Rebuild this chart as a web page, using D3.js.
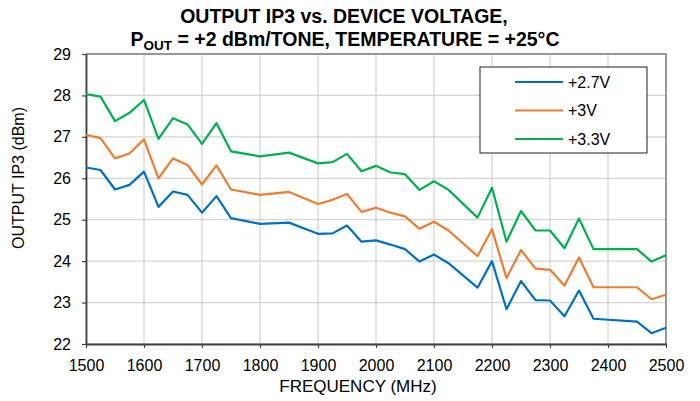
<!DOCTYPE html>
<html>
<head>
<meta charset="utf-8">
<script src="https://cdn.jsdelivr.net/npm/d3@7"></script>
<style>
  body { margin: 0; background: #fff; }
  text { font-family: "Liberation Sans", Arial, sans-serif; }
</style>
</head>
<body>
<div id="chart"></div>
<script>
// frequency points (MHz) where the curves have a vertex
const freq = [1500, 1525, 1550, 1575, 1600, 1625, 1650, 1675, 1700, 1725, 1750,
  1800, 1850, 1900, 1925, 1950, 1975, 2000, 2025, 2050, 2075, 2100, 2125,
  2175, 2200, 2225, 2250, 2275, 2300, 2325, 2350, 2375, 2450, 2475, 2500];

const ip3_27 = [26.26, 26.20, 25.73, 25.84, 26.16, 25.31, 25.68, 25.60, 25.17, 25.57, 25.04,
  24.90, 24.93, 24.66, 24.67, 24.86, 24.47, 24.50, 24.40, 24.29, 23.99, 24.16, 23.95,
  23.36, 24.00, 22.84, 23.52, 23.06, 23.05, 22.67, 23.29, 22.61, 22.54, 22.26, 22.39];

const ip3_30 = [27.05, 26.97, 26.48, 26.60, 26.94, 26.00, 26.48, 26.32, 25.85, 26.31, 25.73,
  25.60, 25.67, 25.38, 25.48, 25.62, 25.19, 25.29, 25.17, 25.08, 24.78, 24.95, 24.74,
  24.12, 24.77, 23.59, 24.27, 23.82, 23.79, 23.41, 24.09, 23.37, 23.37, 23.08, 23.19];

const ip3_33 = [28.03, 27.97, 27.38, 27.58, 27.89, 26.95, 27.45, 27.30, 26.83, 27.33, 26.65,
  26.53, 26.62, 26.36, 26.39, 26.59, 26.17, 26.30, 26.14, 26.10, 25.72, 25.93, 25.72,
  25.05, 25.77, 24.47, 25.21, 24.74, 24.74, 24.31, 25.03, 24.29, 24.29, 23.99, 24.14];

const seriesNames = ["+2.7V", "+3V", "+3.3V"];
const colors = ["#0070c0", "#ed7d31", "#00b050"];
const xTicks = [1500, 1600, 1700, 1800, 1900, 2000, 2100, 2200, 2300, 2400, 2500];
const yTicks = [22, 23, 24, 25, 26, 27, 28, 29];

const width = 700,
  height = 401,
  margin = ({ top: 54, right: 34, bottom: 57, left: 86 });

const svg = d3.select("#chart")
  .append("svg")
  .attr("width", width)
  .attr("height", height);

const x = d3.scaleLinear()
  .domain([1500, 2500])
  .range([margin.left, width - margin.right]);

const y = d3.scaleLinear()
  .domain([22, 29])
  .range([height - margin.bottom, margin.top]);

// grid
svg.append("g")
  .selectAll("line")
  .data(xTicks)
  .join("line")
  .attr("x1", d => x(d)).attr("x2", d => x(d))
  .attr("y1", y(22)).attr("y2", y(29))
  .attr("stroke", "#d4d4d4")
  .attr("stroke-width", 1.3);

svg.append("g")
  .selectAll("line")
  .data(yTicks)
  .join("line")
  .attr("x1", x(1500)).attr("x2", x(2500))
  .attr("y1", d => y(d)).attr("y2", d => y(d))
  .attr("stroke", "#d4d4d4")
  .attr("stroke-width", 1.3);

// top and right frame
svg.append("path")
  .attr("d", `M${x(1500)},${y(29)}H${x(2500)}V${y(22)}`)
  .attr("fill", "none")
  .attr("stroke", "#808080")
  .attr("stroke-width", 1.5);

// axes
const xAxis = svg.append("g")
  .attr("transform", `translate(0,${y(22)})`)
  .call(d3.axisBottom(x).tickValues(xTicks).tickSize(4).tickSizeOuter(0).tickFormat(d3.format("d")));

const yAxis = svg.append("g")
  .attr("transform", `translate(${x(1500)},0)`)
  .call(d3.axisLeft(y).tickValues(yTicks).tickSize(4).tickSizeOuter(0).tickFormat(d3.format("d")));

[xAxis, yAxis].forEach(g => {
  g.select(".domain").attr("stroke", "#404040").attr("stroke-width", 1.8);
  g.selectAll(".tick line").attr("stroke", "#404040").attr("stroke-width", 1.2);
  g.selectAll(".tick text")
    .attr("font-size", 16)
    .attr("font-family", "'Liberation Sans', Arial, sans-serif")
    .attr("fill", "#000");
});
xAxis.selectAll(".tick text").attr("y", 27).attr("dy", 0);
yAxis.selectAll(".tick text").attr("x", -15);

// curves
const data = [ip3_27, ip3_30, ip3_33];
const line = d3.line()
  .x((d, i) => x(freq[i]))
  .y(d => y(d));

svg.append("g")
  .selectAll("path")
  .data(data)
  .join("path")
  .attr("d", line)
  .attr("fill", "none")
  .attr("stroke", (d, i) => colors[i])
  .attr("stroke-width", 2.2)
  .attr("stroke-linejoin", "round");

// legend
const legend = svg.append("g");
legend.append("rect")
  .attr("x", 480).attr("y", 67)
  .attr("width", 167).attr("height", 86)
  .attr("fill", "#fff")
  .attr("stroke", "#202020")
  .attr("stroke-width", 1);

seriesNames.forEach((name, i) => {
  const ly = 82 + i * 28.5;
  legend.append("line")
    .attr("x1", 515).attr("x2", 563)
    .attr("y1", ly).attr("y2", ly)
    .attr("stroke", colors[i])
    .attr("stroke-width", 2.2);
  legend.append("text")
    .attr("x", 568).attr("y", ly)
    .attr("dy", "0.36em")
    .attr("font-size", 16)
    .text(name);
});

// titles
svg.append("text")
  .attr("text-anchor", "middle")
  .attr("font-weight", "bold")
  .attr("font-size", 19.5)
  .attr("x", 344).attr("y", 23)
  .text("OUTPUT IP3 vs. DEVICE VOLTAGE,");

const title2 = svg.append("text")
  .attr("text-anchor", "middle")
  .attr("font-weight", "bold")
  .attr("font-size", 19.5)
  .attr("x", 345).attr("y", 46);
title2.append("tspan").text("P");
title2.append("tspan").attr("font-size", 13.5).attr("dy", 4).text("OUT");
title2.append("tspan").attr("dy", -4).text(" = +2 dBm/TONE, TEMPERATURE = +25°C");

svg.append("text")
  .attr("text-anchor", "middle")
  .attr("x", 358).attr("y", 392)
  .attr("font-size", 17)
  .text("FREQUENCY (MHz)");

svg.append("text")
  .attr("text-anchor", "middle")
  .attr("transform", "translate(24,178) rotate(-90)")
  .attr("font-size", 16)
  .text("OUTPUT IP3 (dBm)");
</script>
</body>
</html>
